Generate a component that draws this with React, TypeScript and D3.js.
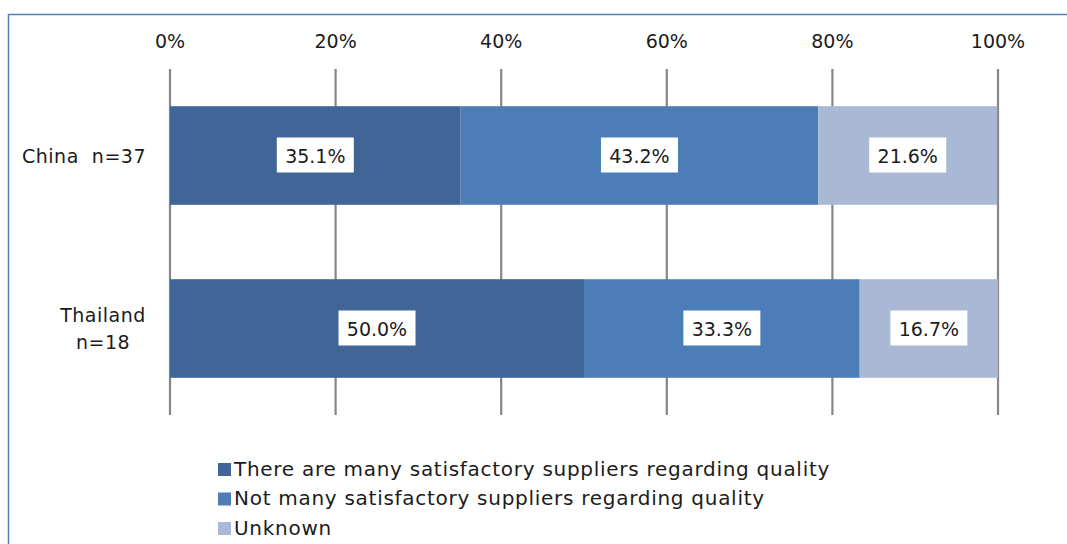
import React from "react";
import * as d3 from "d3";

const categories = ["China  n=37", "Thailand\nn=18"];
const seriesNames = [
  "There are many satisfactory suppliers regarding quality",
  "Not many satisfactory suppliers regarding quality",
  "Unknown",
];
const many = [35.1, 50.0];
const notMany = [43.2, 33.3];
const unknown = [21.6, 16.7];
const tickValues = [0, 20, 40, 60, 80, 100];
const colors = ["#3F6697", "#4D7DB7", "#A8B8D5"];

const W = 1067;
const H = 544;
const FONT = "'Century Gothic', 'DejaVu Sans', sans-serif";
const TXT = "#1c1c1c";

export default function App() {
  const x = d3.scaleLinear().domain([0, 100]).range([170, 998]);
  const y = d3.scaleBand().domain(categories).range([69, 415]).paddingInner(0.43).paddingOuter(0.215);
  const series = [many, notMany, unknown];
  const stackData = categories.map((c, i) => ({ cat: c, s0: many[i], s1: notMany[i], s2: unknown[i] }));
  const stacked = d3.stack<any>().keys(["s0", "s1", "s2"])(stackData);

  return (
    <div style={{ position: "absolute", left: 0, top: 0 }}>
      <svg width={W} height={H} style={{ display: "block", fontFamily: FONT }}>
        <rect x={0} y={0} width={W} height={H} fill="#fff" />
        <rect x={8.5} y={14.5} width={W + 20} height={H + 20} fill="#fff" stroke="#4F81BD" strokeWidth={1.5} />
        {tickValues.map((t) => (
          <g key={t}>
            <line x1={x(t)} x2={x(t)} y1={69} y2={415} stroke="#868686" strokeWidth={2.2} />
            <text x={x(t)} y={48} textAnchor="middle" fontSize={19} fill={TXT}>
              {t}%
            </text>
          </g>
        ))}
        {stacked.map((layer, si) => (
          <g key={si}>
            {layer.map((d, ci) => (
              <rect
                key={ci}
                x={x(d[0])}
                y={y(categories[ci])!}
                width={x(d[1]) - x(d[0])}
                height={y.bandwidth()}
                fill={colors[si]}
              />
            ))}
          </g>
        ))}
        {stacked.map((layer, si) =>
          layer.map((d, ci) => {
            const cx = (x(d[0]) + x(d[1])) / 2;
            const cy = y(categories[ci])! + y.bandwidth() / 2;
            const label = series[si][ci].toFixed(1) + "%";
            return (
              <g key={`l${si}-${ci}`}>
                <rect x={cx - 38.5} y={cy - 18} width={77} height={35} fill="#fff" />
                <text x={cx} y={cy + 7.5} textAnchor="middle" fontSize={19} fill={TXT}>
                  {label}
                </text>
              </g>
            );
          })
        )}
        {categories.map((c) => {
          const lines = c.split("\n");
          const cy = y(c)! + y.bandwidth() / 2;
          const lh = 27;
          const start = cy - ((lines.length - 1) * lh) / 2 + 7;
          return (
            <text key={c} textAnchor="middle" fontSize={19} fill={TXT} letterSpacing={0.5} style={{ whiteSpace: "pre" }}>
              {lines.map((l, i) => (
                <tspan key={i} x={lines.length > 1 ? 103 : 84} y={start + i * lh}>
                  {l}
                </tspan>
              ))}
            </text>
          );
        })}
        {seriesNames.map((n, i) => (
          <g key={n}>
            <rect x={218} y={463 + i * 29.5} width={13} height={13} fill={colors[i]} />
            <text x={234} y={475.5 + i * 29.5} fontSize={20} letterSpacing={0.72} fill={TXT}>
              {n}
            </text>
          </g>
        ))}
      </svg>
    </div>
  );
}
